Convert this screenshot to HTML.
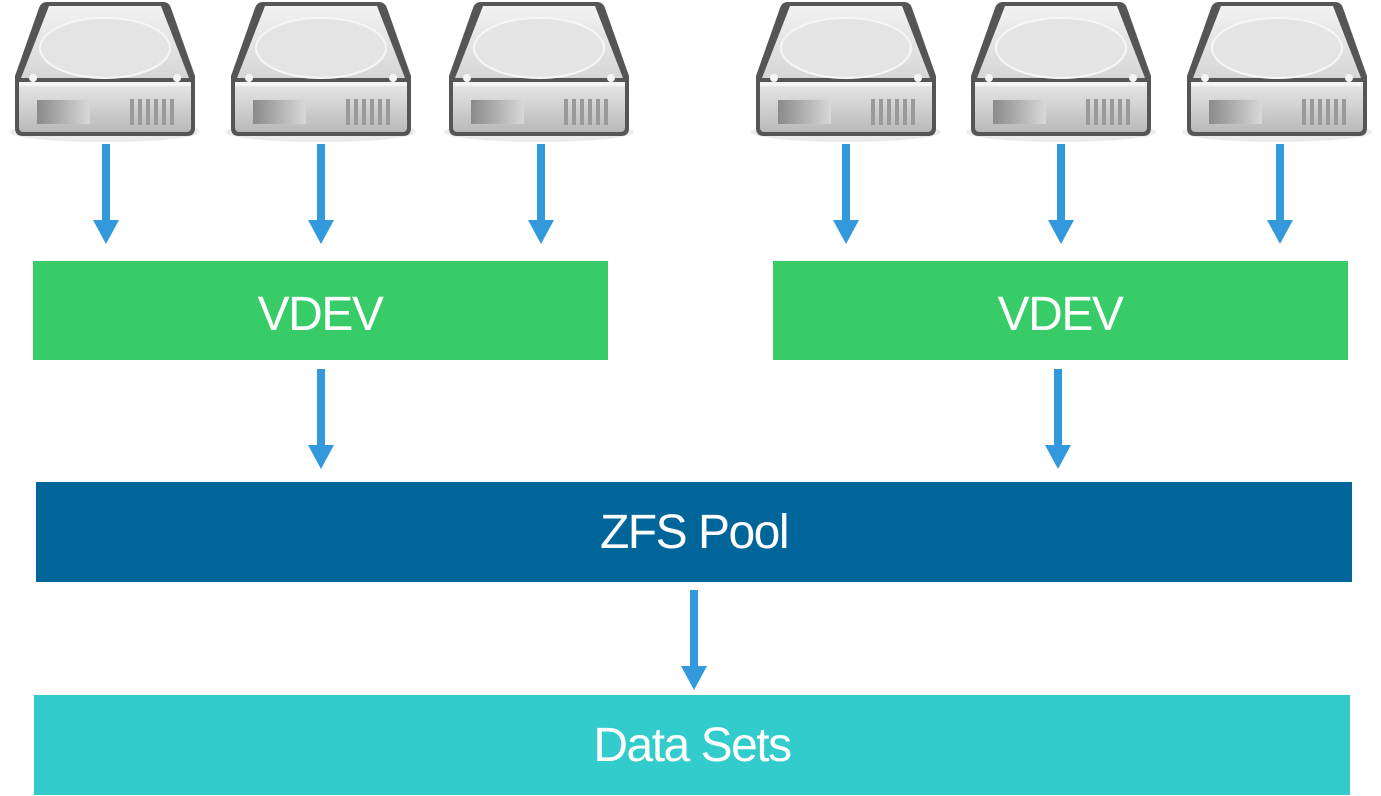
<!DOCTYPE html>
<html><head><meta charset="utf-8"><style>
html,body{margin:0;padding:0;background:#fff;width:1381px;height:796px;overflow:hidden}
svg{display:block}
text{font-family:"Liberation Sans",sans-serif;fill:#fff;font-size:48px;letter-spacing:-1.5px}
</style></head><body>
<svg width="1381" height="796" viewBox="0 0 1381 796" xmlns="http://www.w3.org/2000/svg">
<defs>
<linearGradient id="top" x1="0" y1="0" x2="0" y2="1"><stop offset="0" stop-color="#f2f2f2"/><stop offset="1" stop-color="#d6d6d6"/></linearGradient>
<linearGradient id="front" x1="0" y1="0" x2="0" y2="1"><stop offset="0" stop-color="#e8e8e8"/><stop offset="1" stop-color="#b9b9b9"/></linearGradient>
<linearGradient id="slot" x1="0" y1="0" x2="1" y2="0"><stop offset="0" stop-color="#8a8a8a"/><stop offset="1" stop-color="#d8d8d8"/></linearGradient>
<g id="disk">
<ellipse cx="0" cy="132" rx="95" ry="10" fill="#000" opacity="0.08"/>
<path d="M-58,2 L58,2 Q64,2 66,8 L90,76 L90,128 Q90,136 82,136 L-82,136 Q-90,136 -90,128 L-90,76 L-66,8 Q-64,2 -58,2 Z" fill="#555"/>
<path d="M-56,6 L56,6 L84,78 L-84,78 Z" fill="url(#top)"/>
<ellipse cx="0" cy="48" rx="65" ry="30" fill="#e4e4e4" stroke="#f6f6f6" stroke-width="2"/>
<circle cx="-72" cy="78" r="4" fill="#f6f6f6"/><circle cx="72" cy="78" r="4" fill="#f6f6f6"/>
<rect x="-86" y="82" width="172" height="50" rx="4" fill="url(#front)"/>
<rect x="-86" y="82" width="172" height="4" fill="#f4f4f4"/>
<path d="M-68,100 L-15,100 L-15,124 L-68,124 Z" fill="url(#slot)"/>
<g fill="#9a9a9a"><rect x="25" y="99" width="4" height="26"/><rect x="33" y="99" width="4" height="26"/><rect x="41" y="99" width="4" height="26"/><rect x="49" y="99" width="4" height="26"/><rect x="57" y="99" width="4" height="26"/><rect x="65" y="99" width="4" height="26"/></g>
</g>
<g id="arr">
<rect x="-4" y="0" width="8" height="80" fill="#3399dd"/>
<path d="M-13,76 L13,76 L0,100 Z" fill="#3399dd"/>
</g>
</defs>
<use href="#disk" x="105" y="0"/><use href="#disk" x="321" y="0"/><use href="#disk" x="539" y="0"/>
<use href="#disk" x="846" y="0"/><use href="#disk" x="1061" y="0"/><use href="#disk" x="1277" y="0"/>
<use href="#arr" x="106" y="144"/><use href="#arr" x="321" y="144"/><use href="#arr" x="541" y="144"/>
<use href="#arr" x="846" y="144"/><use href="#arr" x="1061" y="144"/><use href="#arr" x="1280" y="144"/>
<rect x="33" y="261" width="575" height="99" fill="#37cc67"/>
<rect x="773" y="261" width="575" height="99" fill="#37cc67"/>
<text x="320" y="330" text-anchor="middle">VDEV</text>
<text x="1060" y="330" text-anchor="middle">VDEV</text>
<use href="#arr" x="321" y="369"/><use href="#arr" x="1058" y="369"/>
<rect x="36" y="482" width="1316" height="100" fill="#006699"/>
<text x="694" y="548" text-anchor="middle">ZFS Pool</text>
<use href="#arr" x="694" y="590"/>
<rect x="34" y="695" width="1316" height="100" fill="#33cccc"/>
<text x="692" y="761" text-anchor="middle">Data Sets</text>
</svg>
</body></html>
